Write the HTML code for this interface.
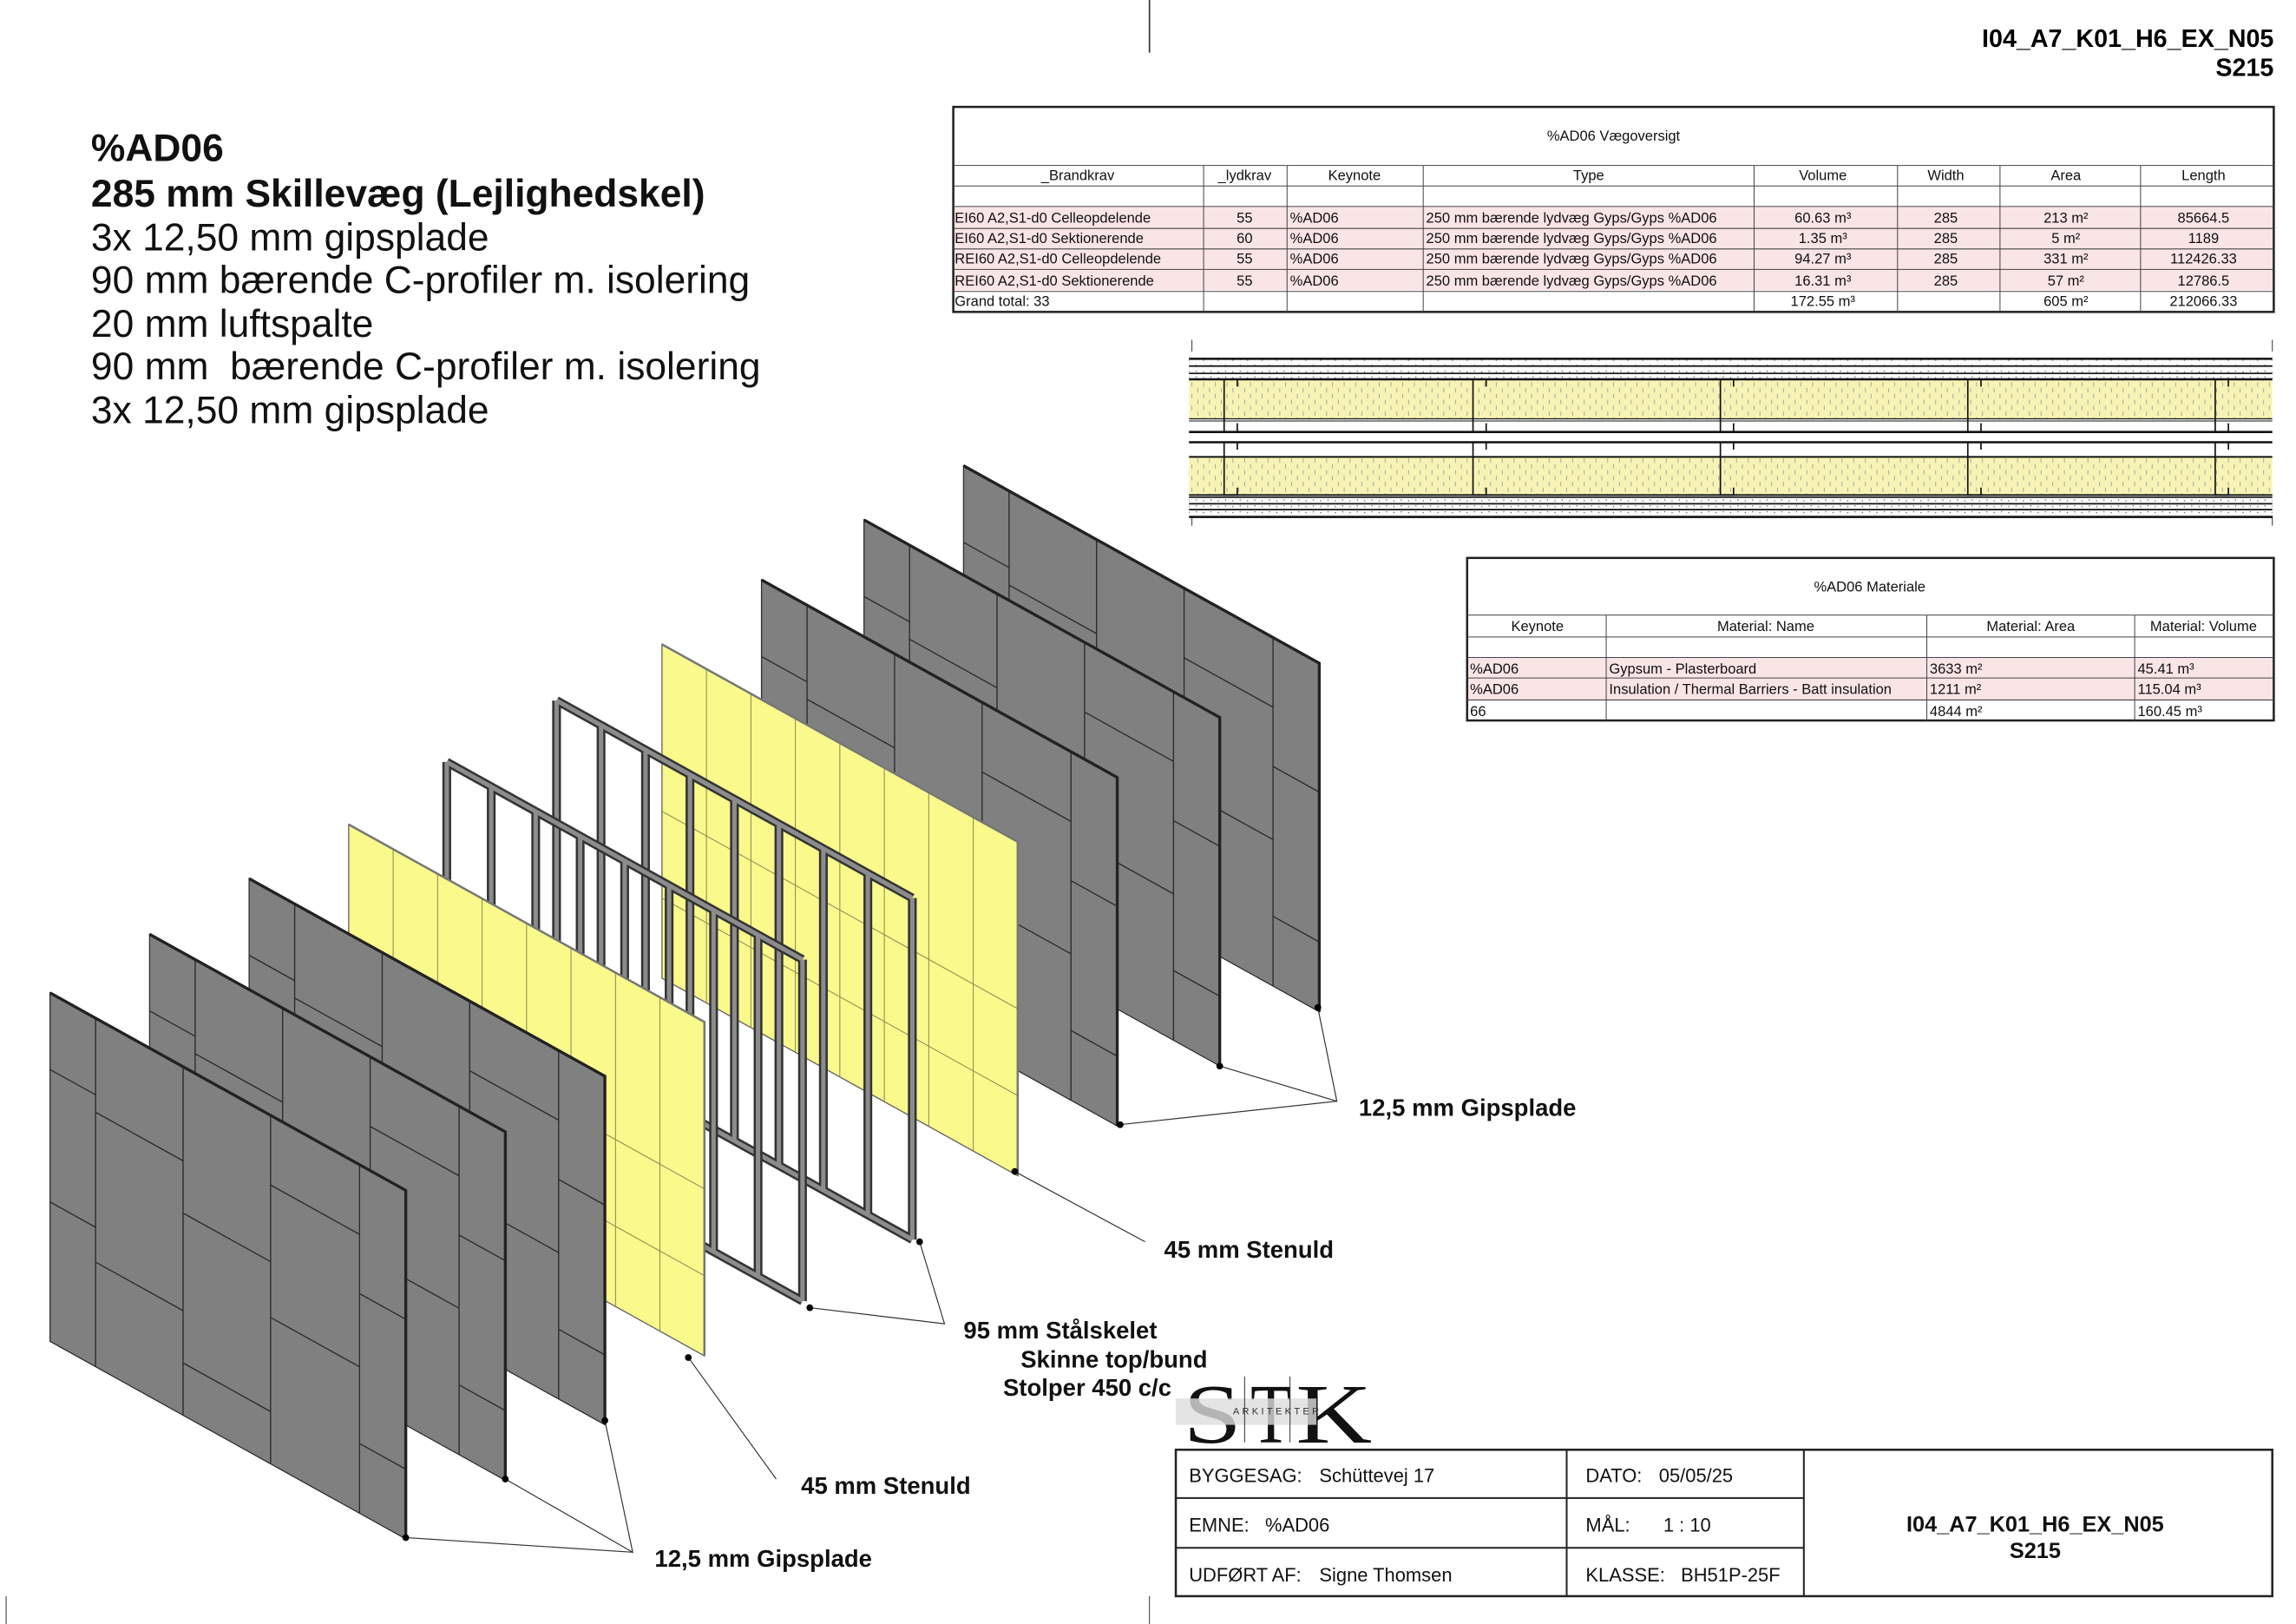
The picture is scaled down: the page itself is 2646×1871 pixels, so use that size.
<!DOCTYPE html>
<html><head><meta charset="utf-8"><style>
html,body{margin:0;padding:0;background:#fff;}
svg{display:block;}
text{font-family:"Liberation Sans",sans-serif;}
</style></head><body>
<svg id="s" width="2646" height="1871" viewBox="0 0 1568 1109" xmlns="http://www.w3.org/2000/svg">
<rect width="1568" height="1109" fill="#fff"/>
<line x1="785" y1="0" x2="785" y2="36" stroke="#333" stroke-width="1"/>
<text x="1553" y="32" font-size="17" font-weight="bold" text-anchor="end">I04_A7_K01_H6_EX_N05</text>
<text x="1553" y="52" font-size="17" font-weight="bold" text-anchor="end">S215</text>

<g font-size="26.3" fill="#111">
<text x="62" y="110" font-weight="bold">%AD06</text>
<text x="62" y="141" font-weight="bold">285 mm Skillevæg (Lejlighedskel)</text>
<text x="62" y="171">3x 12,50 mm gipsplade</text>
<text x="62" y="200">90 mm bærende C-profiler m. isolering</text>
<text x="62" y="230">20 mm luftspalte</text>
<text x="62" y="259" xml:space="preserve">90 mm  bærende C-profiler m. isolering</text>
<text x="62" y="289">3x 12,50 mm gipsplade</text>
</g>

<!-- Table 1 -->
<g font-size="9.8" fill="#111">
<rect x="651" y="141" width="902" height="57" fill="#f9e4e6"/>
<rect x="651" y="73" width="902" height="140" fill="none" stroke="#222" stroke-width="1.5"/>
<g stroke="#444" stroke-width="0.6">
<line x1="651" y1="113" x2="1553" y2="113"/><line x1="651" y1="127" x2="1553" y2="127"/>
<line x1="651" y1="141" x2="1553" y2="141"/><line x1="651" y1="156" x2="1553" y2="156"/>
<line x1="651" y1="170" x2="1553" y2="170"/><line x1="651" y1="184" x2="1553" y2="184"/>
<line x1="651" y1="199" x2="1553" y2="199"/>
<line x1="822" y1="113" x2="822" y2="213"/><line x1="879" y1="113" x2="879" y2="213"/>
<line x1="972" y1="113" x2="972" y2="213"/><line x1="1198" y1="113" x2="1198" y2="213"/>
<line x1="1296" y1="113" x2="1296" y2="213"/><line x1="1366" y1="113" x2="1366" y2="213"/>
<line x1="1462" y1="113" x2="1462" y2="213"/>
</g>
<text x="1102" y="96" text-anchor="middle">%AD06 Vægoversigt</text>
<g text-anchor="middle">
<text x="736" y="123">_Brandkrav</text><text x="850" y="123">_lydkrav</text><text x="925" y="123">Keynote</text>
<text x="1085" y="123">Type</text><text x="1245" y="123">Volume</text><text x="1329" y="123">Width</text>
<text x="1411" y="123">Area</text><text x="1505" y="123">Length</text>
</g>
<g>
<text x="652" y="152">EI60 A2,S1-d0 Celleopdelende</text>
<text x="652" y="166">EI60 A2,S1-d0 Sektionerende</text>
<text x="652" y="180">REI60 A2,S1-d0 Celleopdelende</text>
<text x="652" y="195">REI60 A2,S1-d0 Sektionerende</text>
<text x="652" y="209">Grand total: 33</text>
<text x="881" y="152">%AD06</text><text x="881" y="166">%AD06</text><text x="881" y="180">%AD06</text><text x="881" y="195">%AD06</text>
<text x="974" y="152">250 mm bærende lydvæg Gyps/Gyps %AD06</text>
<text x="974" y="166">250 mm bærende lydvæg Gyps/Gyps %AD06</text>
<text x="974" y="180">250 mm bærende lydvæg Gyps/Gyps %AD06</text>
<text x="974" y="195">250 mm bærende lydvæg Gyps/Gyps %AD06</text>
</g>
<g text-anchor="middle">
<text x="850" y="152">55</text><text x="850" y="166">60</text><text x="850" y="180">55</text><text x="850" y="195">55</text>
<text x="1245" y="152">60.63 m³</text><text x="1245" y="166">1.35 m³</text><text x="1245" y="180">94.27 m³</text><text x="1245" y="195">16.31 m³</text><text x="1245" y="209">172.55 m³</text>
<text x="1329" y="152">285</text><text x="1329" y="166">285</text><text x="1329" y="180">285</text><text x="1329" y="195">285</text>
<text x="1411" y="152">213 m²</text><text x="1411" y="166">5 m²</text><text x="1411" y="180">331 m²</text><text x="1411" y="195">57 m²</text><text x="1411" y="209">605 m²</text>
<text x="1505" y="152">85664.5</text><text x="1505" y="166">1189</text><text x="1505" y="180">112426.33</text><text x="1505" y="195">12786.5</text><text x="1505" y="209">212066.33</text>
</g>
</g>

<!-- Table 2 -->
<g font-size="9.8" fill="#111">
<rect x="1002" y="449" width="551" height="29" fill="#f9e4e6"/>
<rect x="1002" y="381" width="551" height="111" fill="none" stroke="#222" stroke-width="1.5"/>
<g stroke="#444" stroke-width="0.6">
<line x1="1002" y1="420" x2="1553" y2="420"/><line x1="1002" y1="435" x2="1553" y2="435"/>
<line x1="1002" y1="449" x2="1553" y2="449"/><line x1="1002" y1="463" x2="1553" y2="463"/>
<line x1="1002" y1="478" x2="1553" y2="478"/>
<line x1="1097" y1="420" x2="1097" y2="492"/><line x1="1316" y1="420" x2="1316" y2="492"/>
<line x1="1458" y1="420" x2="1458" y2="492"/>
</g>
<text x="1277" y="404" text-anchor="middle">%AD06 Materiale</text>
<g text-anchor="middle"><text x="1050" y="431">Keynote</text><text x="1206" y="431">Material: Name</text><text x="1387" y="431">Material: Area</text><text x="1505" y="431">Material: Volume</text></g>
<text x="1004" y="460">%AD06</text><text x="1004" y="474">%AD06</text><text x="1004" y="489">66</text>
<text x="1099" y="460">Gypsum - Plasterboard</text><text x="1099" y="474">Insulation / Thermal Barriers - Batt insulation</text>
<text x="1318" y="460">3633 m²</text><text x="1318" y="474">1211 m²</text><text x="1318" y="489">4844 m²</text>
<text x="1460" y="460">45.41 m³</text><text x="1460" y="474">115.04 m³</text><text x="1460" y="489">160.45 m³</text>
</g>

<!-- Section -->
<defs>
<pattern id="ins" width="8" height="8" patternUnits="userSpaceOnUse">
<rect width="8" height="8" fill="#f7f3b4"/><line x1="2" y1="1" x2="2" y2="4" stroke="#999" stroke-width="0.5"/><line x1="6" y1="5" x2="6" y2="8" stroke="#999" stroke-width="0.5"/>
</pattern>
<pattern id="gyp" width="10" height="4" patternUnits="userSpaceOnUse">
<rect width="10" height="4" fill="#fafafa"/><circle cx="2" cy="2" r="0.4" fill="#555"/><circle cx="7" cy="1.5" r="0.4" fill="#555"/>
</pattern>
</defs>
<g id="sec">
<line x1="814" y1="232" x2="814" y2="240" stroke="#333" stroke-width="0.6"/>
<line x1="1552" y1="232" x2="1552" y2="240" stroke="#333" stroke-width="0.6"/>
<line x1="814" y1="352" x2="814" y2="359" stroke="#333" stroke-width="0.6"/>
<line x1="1552" y1="352" x2="1552" y2="359" stroke="#333" stroke-width="0.6"/>
<rect x="812" y="245" width="740" height="14" fill="url(#gyp)"/>
<rect x="812" y="259" width="740" height="27" fill="url(#ins)"/>
<rect x="812" y="312" width="740" height="26" fill="url(#ins)"/>
<rect x="812" y="338" width="740" height="15" fill="url(#gyp)"/>
<g stroke="#111">
<line x1="812" y1="245" x2="1552" y2="245" stroke-width="1.5"/>
<line x1="812" y1="250" x2="1552" y2="250" stroke-width="1"/>
<line x1="812" y1="255" x2="1552" y2="255" stroke-width="1"/>
<line x1="812" y1="259" x2="1552" y2="259" stroke-width="1.5"/>
<line x1="812" y1="286" x2="1552" y2="286" stroke-width="0.8"/>
<line x1="812" y1="287.5" x2="1552" y2="287.5" stroke-width="0.6"/>
<line x1="812" y1="295" x2="1552" y2="295" stroke-width="1.5"/>
<line x1="812" y1="302" x2="1552" y2="302" stroke-width="1.5"/>
<line x1="812" y1="312" x2="1552" y2="312" stroke-width="1.2"/>
<line x1="812" y1="338" x2="1552" y2="338" stroke-width="1"/>
<line x1="812" y1="339.5" x2="1552" y2="339.5" stroke-width="1"/>
<line x1="812" y1="344" x2="1552" y2="344" stroke-width="1"/>
<line x1="812" y1="348" x2="1552" y2="348" stroke-width="1"/>
<line x1="812" y1="353" x2="1552" y2="353" stroke-width="1.5"/>
</g>
</g>

<g id="iso"></g>

<!-- leaders -->
<g stroke="#333" stroke-width="0.7" fill="none">
<polyline points="900,688 913,752 833,728"/><line x1="913" y1="752" x2="765" y2="768"/>
<line x1="693" y1="800" x2="782" y2="848"/>
<polyline points="628,848 645,904 553,893"/>
<line x1="470" y1="927" x2="530" y2="1010"/>
<polyline points="413,970 432,1060 345,1010"/><line x1="432" y1="1060" x2="277" y2="1050"/>
</g>
<g fill="#000">
<circle cx="900" cy="688" r="2.3"/><circle cx="833" cy="728" r="2.3"/><circle cx="765" cy="768" r="2.3"/>
<circle cx="693" cy="800" r="2.3"/><circle cx="628" cy="848" r="2.3"/><circle cx="553" cy="893" r="2.3"/>
<circle cx="470" cy="927" r="2.3"/><circle cx="413" cy="970" r="2.3"/><circle cx="345" cy="1010" r="2.3"/><circle cx="277" cy="1050" r="2.3"/>
</g>
<g font-size="16.3" font-weight="bold" fill="#111">
<text x="928" y="762">12,5 mm Gipsplade</text>
<text x="795" y="859">45 mm Stenuld</text>
<text x="658" y="914">95 mm Stålskelet</text>
<text x="697" y="934">Skinne top/bund</text>
<text x="685" y="953">Stolper 450 c/c</text>
<text x="547" y="1020">45 mm Stenuld</text>
<text x="447" y="1070">12,5 mm Gipsplade</text>
</g>

<!-- logo -->
<g fill="#111">
<text x="808" y="985" font-size="58" style="font-family:'Liberation Serif',serif" textLength="40" lengthAdjust="spacingAndGlyphs">S</text>
<text x="854" y="985" font-size="58" style="font-family:'Liberation Serif',serif" textLength="28" lengthAdjust="spacingAndGlyphs">T</text>
<text x="885" y="985" font-size="58" style="font-family:'Liberation Serif',serif" textLength="52" lengthAdjust="spacingAndGlyphs">K</text>
<rect x="803" y="955" width="96" height="18" fill="#ddd" opacity="0.8"/>
<line x1="850" y1="940" x2="850" y2="985" stroke="#333" stroke-width="0.6"/>
<line x1="881" y1="940" x2="881" y2="985" stroke="#333" stroke-width="0.6"/>
<text x="842" y="966" font-size="6.5" fill="#333" letter-spacing="2">ARKITEKTER</text>
</g>

<!-- title block -->
<g font-size="13" fill="#111">
<rect x="803" y="990" width="749" height="100" fill="none" stroke="#222" stroke-width="1.5"/>
<line x1="803" y1="1023" x2="1232" y2="1023" stroke="#222" stroke-width="1.2"/>
<line x1="803" y1="1057" x2="1232" y2="1057" stroke="#222" stroke-width="1.2"/>
<line x1="1070" y1="990" x2="1070" y2="1090" stroke="#222" stroke-width="1.2"/>
<line x1="1232" y1="990" x2="1232" y2="1090" stroke="#222" stroke-width="1.2"/>
<text x="812" y="1012">BYGGESAG:</text><text x="901" y="1012">Schüttevej 17</text>
<text x="812" y="1046">EMNE:</text><text x="864" y="1046">%AD06</text>
<text x="812" y="1080">UDFØRT AF:</text><text x="901" y="1080">Signe Thomsen</text>
<text x="1083" y="1012">DATO:</text><text x="1133" y="1012">05/05/25</text>
<text x="1083" y="1046">MÅL:</text><text x="1136" y="1046">1 : 10</text>
<text x="1083" y="1080">KLASSE:</text><text x="1148" y="1080">BH51P-25F</text>
<text x="1390" y="1046" font-size="15" font-weight="bold" text-anchor="middle">I04_A7_K01_H6_EX_N05</text>
<text x="1390" y="1064" font-size="15" font-weight="bold" text-anchor="middle">S215</text>
</g>
<line x1="785" y1="1090" x2="785" y2="1109" stroke="#333" stroke-width="0.6"/>
<line x1="4" y1="1090" x2="4" y2="1109" stroke="#333" stroke-width="0.6"/>

<script>
(function(){
var NS="http://www.w3.org/2000/svg",g=document.getElementById("iso"),sec=document.getElementById("sec");
function el(p,t,a){var e=document.createElementNS(NS,t);for(var k in a)e.setAttribute(k,a[k]);p.appendChild(e);return e;}
[836,1006,1175,1344,1513].forEach(function(x){
 var s={stroke:"#111","stroke-width":1,fill:"none"};
 el(sec,"polyline",Object.assign({points:(x+9)+",264 "+(x+9)+",259 "+x+",259 "+x+",295 "+(x+9)+",295 "+(x+9)+",289"},s));
 el(sec,"polyline",Object.assign({points:(x+9)+",307 "+(x+9)+",302 "+x+",302 "+x+",338 "+(x+9)+",338 "+(x+9)+",333"},s));
});
var W=243,S=0.555,H=238;
function P(x0,y0,u,v,h){return [x0+u*W,y0+u*W*S+v*(h||H)];}
function pts(a){return a.map(function(p){return p[0].toFixed(1)+","+p[1].toFixed(1);}).join(" ");}
function line(x0,y0,u1,v1,u2,v2,st,sw,h){var a=P(x0,y0,u1,v1,h),b=P(x0,y0,u2,v2,h);el(g,"line",{x1:a[0],y1:a[1],x2:b[0],y2:b[1],stroke:st,"stroke-width":sw});}
function gray(x0,y0){
 el(g,"polygon",{points:pts([P(x0,y0,0,0),P(x0,y0,1,0),P(x0,y0,1,1),P(x0,y0,0,1)]),fill:"#808080",stroke:"#333","stroke-width":0.8});
 var us=[0,0.128,0.374,0.62,0.87,1];
 for(var i=1;i<5;i++)line(x0,y0,us[i],0,us[i],1,"#2a2a2a",0.8);
 var seams=[[0.22,0.6],[0.27,0.7],[0.42,0.85],[0.2,0.58],[0.37,0.8]];
 for(var c=0;c<5;c++)seams[c].forEach(function(v){line(x0,y0,us[c],v,us[c+1],v,"#2a2a2a",0.8);});
 el(g,"polyline",{points:pts([P(x0,y0,0,0),P(x0,y0,1,0),P(x0,y0,1,1)]),fill:"none",stroke:"#222","stroke-width":2});
}
function yellow(x0,y0){
 var h=228;
 el(g,"polygon",{points:pts([P(x0,y0,0,0,h),P(x0,y0,1,0,h),P(x0,y0,1,1,h),P(x0,y0,0,1,h)]),fill:"#f9f98c",stroke:"#666","stroke-width":0.8});
 for(var i=1;i<8;i++)line(x0,y0,i/8,0,i/8,1,"#8a8a50",0.6,h);
 [0.5,0.76].forEach(function(v){line(x0,y0,0,v,1,v,"#8a8a50",0.6,h);});
 el(g,"polyline",{points:pts([P(x0,y0,0,0,h),P(x0,y0,1,0,h),P(x0,y0,1,1,h)]),fill:"none",stroke:"#777","stroke-width":1.5});
}
function frame(x0,y0){
 var segs=[];
 for(var i=0;i<=8;i++){segs.push([i/8,0.01,i/8,0.99]);}
 segs.push([0,0.01,1,0.01]);segs.push([0,0.99,1,0.99]);
 segs.forEach(function(s){line(x0,y0,s[0],s[1],s[2],s[3],"#333",6);});
 segs.forEach(function(s){line(x0,y0,s[0],s[1],s[2],s[3],"#8c8c8c",3);});
}
gray(658,318);gray(590,355);gray(520,396);
yellow(452,440);frame(380,476);frame(305,518);yellow(238,563);
gray(170,600);gray(102,638);gray(34,678);
})();
</script>
</svg>
</body></html>
